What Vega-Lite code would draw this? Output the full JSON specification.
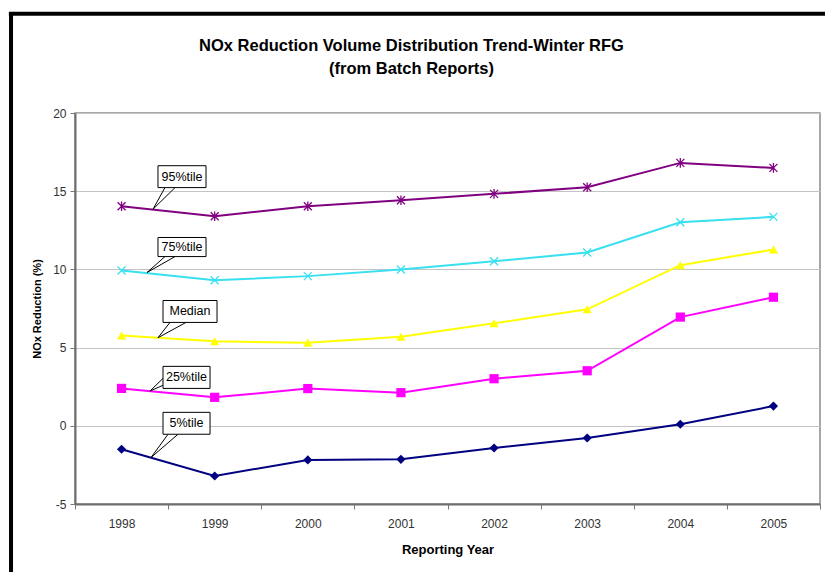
{
  "$schema": "https://vega.github.io/schema/vega-lite/v6.json",
  "autosize": {"type": "none"},
  "width": 745,
  "height": 391,
  "padding": {"left": 75, "top": 113, "right": 5, "bottom": 68},
  "background": "white",
  "config": {
    "font": "Liberation Sans",
    "view": {"stroke": "#8a8a8a", "strokeWidth": 1.5}
  },
  "title": {
    "text": ["NOx Reduction Volume Distribution Trend-Winter RFG", "(from Batch Reports)"],
    "font": "Liberation Sans",
    "fontSize": 16.5,
    "fontWeight": "bold",
    "color": "#000000",
    "anchor": "middle",
    "frame": "group",
    "baseline": "bottom",
    "lineHeight": 23,
    "offset": -82,
    "dx": -36
  },
  "datasets": {
    "series": [
      {"year": 1998, "series": "95%tile", "v": 14.04},
      {"year": 1999, "series": "95%tile", "v": 13.40},
      {"year": 2000, "series": "95%tile", "v": 14.04},
      {"year": 2001, "series": "95%tile", "v": 14.42},
      {"year": 2002, "series": "95%tile", "v": 14.83},
      {"year": 2003, "series": "95%tile", "v": 15.25},
      {"year": 2004, "series": "95%tile", "v": 16.81},
      {"year": 2005, "series": "95%tile", "v": 16.49},
      {"year": 1998, "series": "75%tile", "v": 9.93},
      {"year": 1999, "series": "75%tile", "v": 9.31},
      {"year": 2000, "series": "75%tile", "v": 9.57},
      {"year": 2001, "series": "75%tile", "v": 9.99},
      {"year": 2002, "series": "75%tile", "v": 10.52},
      {"year": 2003, "series": "75%tile", "v": 11.08},
      {"year": 2004, "series": "75%tile", "v": 13.01},
      {"year": 2005, "series": "75%tile", "v": 13.36},
      {"year": 1998, "series": "Median", "v": 5.78},
      {"year": 1999, "series": "Median", "v": 5.40},
      {"year": 2000, "series": "Median", "v": 5.31},
      {"year": 2001, "series": "Median", "v": 5.70},
      {"year": 2002, "series": "Median", "v": 6.55},
      {"year": 2003, "series": "Median", "v": 7.45},
      {"year": 2004, "series": "Median", "v": 10.27},
      {"year": 2005, "series": "Median", "v": 11.27},
      {"year": 1998, "series": "25%tile", "v": 2.39},
      {"year": 1999, "series": "25%tile", "v": 1.82},
      {"year": 2000, "series": "25%tile", "v": 2.38},
      {"year": 2001, "series": "25%tile", "v": 2.12},
      {"year": 2002, "series": "25%tile", "v": 3.01},
      {"year": 2003, "series": "25%tile", "v": 3.52},
      {"year": 2004, "series": "25%tile", "v": 6.95},
      {"year": 2005, "series": "25%tile", "v": 8.22},
      {"year": 1998, "series": "5%tile", "v": -1.50},
      {"year": 1999, "series": "5%tile", "v": -3.21},
      {"year": 2000, "series": "5%tile", "v": -2.18},
      {"year": 2001, "series": "5%tile", "v": -2.14},
      {"year": 2002, "series": "5%tile", "v": -1.42},
      {"year": 2003, "series": "5%tile", "v": -0.78},
      {"year": 2004, "series": "5%tile", "v": 0.10},
      {"year": 2005, "series": "5%tile", "v": 1.26}
    ],
    "boxes": [
      {"label": "95%tile", "x1": 1998.391, "x2": 1998.907, "y1": 16.63, "y2": 15.23, "tx": 1998.649, "ty": 15.93},
      {"label": "75%tile", "x1": 1998.391, "x2": 1998.907, "y1": 12.04, "y2": 10.82, "tx": 1998.649, "ty": 11.43},
      {"label": "Median", "x1": 1998.445, "x2": 1999.025, "y1": 8.01, "y2": 6.61, "tx": 1998.735, "ty": 7.31},
      {"label": "25%tile", "x1": 1998.445, "x2": 1998.950, "y1": 3.80, "y2": 2.39, "tx": 1998.697, "ty": 3.10},
      {"label": "5%tile", "x1": 1998.445, "x2": 1998.950, "y1": 0.86, "y2": -0.54, "tx": 1998.697, "ty": 0.16}
    ],
    "pointers": [
      {"label": "95%tile", "i": 0, "px": 1998.466, "py": 15.23},
      {"label": "95%tile", "i": 1, "px": 1998.338, "py": 13.85},
      {"label": "95%tile", "i": 2, "px": 1998.574, "py": 15.23},
      {"label": "75%tile", "i": 0, "px": 1998.466, "py": 10.82},
      {"label": "75%tile", "i": 1, "px": 1998.273, "py": 9.80},
      {"label": "75%tile", "i": 2, "px": 1998.574, "py": 10.82},
      {"label": "Median", "i": 0, "px": 1998.520, "py": 6.61},
      {"label": "Median", "i": 1, "px": 1998.391, "py": 5.63},
      {"label": "Median", "i": 2, "px": 1998.692, "py": 6.61},
      {"label": "25%tile", "i": 0, "px": 1998.445, "py": 3.03},
      {"label": "25%tile", "i": 1, "px": 1998.305, "py": 2.22},
      {"label": "25%tile", "i": 2, "px": 1998.445, "py": 2.59},
      {"label": "5%tile", "i": 0, "px": 1998.499, "py": -0.54},
      {"label": "5%tile", "i": 1, "px": 1998.316, "py": -2.03},
      {"label": "5%tile", "i": 2, "px": 1998.606, "py": -0.54}
    ],
    "frame": [
      {"x": 1996.813, "x2": 1996.813, "y": 26.34, "y2": -9.8},
      {"x": 1996.79, "x2": 2005.6, "y": 26.34, "y2": 26.34}
    ]
  },
  "layer": [
    {
      "data": {"name": "series"},
      "mark": {"type": "line", "strokeWidth": 2},
      "encoding": {
        "x": {
          "field": "year", "type": "quantitative",
          "scale": {"domain": [1997.5, 2005.5], "nice": false, "zero": false},
          "axis": {
            "title": "Reporting Year",
            "titleFont": "Liberation Sans",
            "titleFontSize": 13,
            "titleFontWeight": "bold",
            "titleColor": "#000000",
            "titlePadding": 14,
            "values": [1997.5, 1998.5, 1999.5, 2000.5, 2001.5, 2002.5, 2003.5, 2004.5, 2005.5],
            "labelExpr": "datum.value < 2005 ? '' + (datum.value + 0.5) : ''",
            "labelOffset": 46.5,
            "labelFontSize": 12,
            "labelColor": "#333333",
            "labelPadding": 9,
            "labelOverlap": false,
            "labelBound": false,
            "labelFlush": false,
            "grid": false,
            "tickSize": 5,
            "tickColor": "#777777",
            "domainColor": "#6e6e6e",
            "domainWidth": 2
          }
        },
        "y": {
          "field": "v", "type": "quantitative",
          "scale": {"domain": [-5, 20], "nice": false, "zero": false},
          "axis": {
            "title": "NOx Reduction (%)",
            "titleFont": "Liberation Sans",
            "titleFontSize": 11,
            "titleFontWeight": "bold",
            "titleColor": "#000000",
            "titlePadding": 10,
            "values": [-5, 0, 5, 10, 15, 20],
            "labelExpr": "'' + datum.value",
            "labelFontSize": 12,
            "labelColor": "#333333",
            "labelPadding": 4,
            "tickSize": 5,
            "tickColor": "#777777",
            "domainColor": "#6e6e6e",
            "domainWidth": 2,
            "grid": true,
            "gridColor": "#c4c4c4",
            "gridWidth": 1
          }
        },
        "color": {
          "field": "series", "type": "nominal",
          "scale": {
            "domain": ["95%tile", "75%tile", "Median", "25%tile", "5%tile"],
            "range": ["#800080", "#38E0F0", "#FFFF00", "#FF00FF", "#000080"]
          },
          "legend": null
        },
        "detail": {"field": "series"}
      }
    },
    {
      "data": {"name": "series"},
      "transform": [{"filter": "datum.series == 'Median' || datum.series == '25%tile' || datum.series == '5%tile'"}],
      "mark": {"type": "point", "filled": true, "opacity": 1, "size": 85},
      "encoding": {
        "x": {"field": "year", "type": "quantitative"},
        "y": {"field": "v", "type": "quantitative"},
        "color": {"field": "series", "type": "nominal", "legend": null},
        "shape": {
          "field": "series", "type": "nominal",
          "scale": {
            "domain": ["95%tile", "75%tile", "Median", "25%tile", "5%tile"],
            "range": ["M-1,-1L1,1M-1,1L1,-1M0,-1.2L0,1.2", "M-1,-1L1,1M-1,1L1,-1", "triangle-up", "square", "diamond"]
          },
          "legend": null
        }
      }
    },
    {
      "data": {"name": "series"},
      "transform": [{"filter": "datum.series == '95%tile' || datum.series == '75%tile'"}],
      "mark": {"type": "point", "filled": false, "opacity": 1, "size": 64, "strokeWidth": 1.3},
      "encoding": {
        "x": {"field": "year", "type": "quantitative"},
        "y": {"field": "v", "type": "quantitative"},
        "color": {"field": "series", "type": "nominal", "legend": null},
        "shape": {"field": "series", "type": "nominal", "legend": null}
      }
    },
    {
      "data": {"name": "pointers"},
      "mark": {"type": "line", "stroke": "#000000", "strokeWidth": 1},
      "encoding": {
        "x": {"field": "px", "type": "quantitative"},
        "y": {"field": "py", "type": "quantitative"},
        "detail": {"field": "label"},
        "order": {"field": "i", "type": "quantitative"}
      }
    },
    {
      "data": {"name": "boxes"},
      "mark": {"type": "rect", "fill": "#ffffff", "stroke": "#000000", "strokeWidth": 1},
      "encoding": {
        "x": {"field": "x1", "type": "quantitative"},
        "x2": {"field": "x2"},
        "y": {"field": "y1", "type": "quantitative"},
        "y2": {"field": "y2"}
      }
    },
    {
      "data": {"name": "boxes"},
      "mark": {"type": "text", "fontSize": 12.5, "font": "Liberation Sans", "color": "#000000", "align": "center", "baseline": "middle"},
      "encoding": {
        "x": {"field": "tx", "type": "quantitative"},
        "y": {"field": "ty", "type": "quantitative"},
        "text": {"field": "label"}
      }
    },
    {
      "data": {"name": "frame"},
      "mark": {"type": "rule", "color": "#000000", "strokeWidth": 4},
      "encoding": {
        "x": {"field": "x", "type": "quantitative"},
        "x2": {"field": "x2"},
        "y": {"field": "y", "type": "quantitative"},
        "y2": {"field": "y2"}
      }
    }
  ]
}
